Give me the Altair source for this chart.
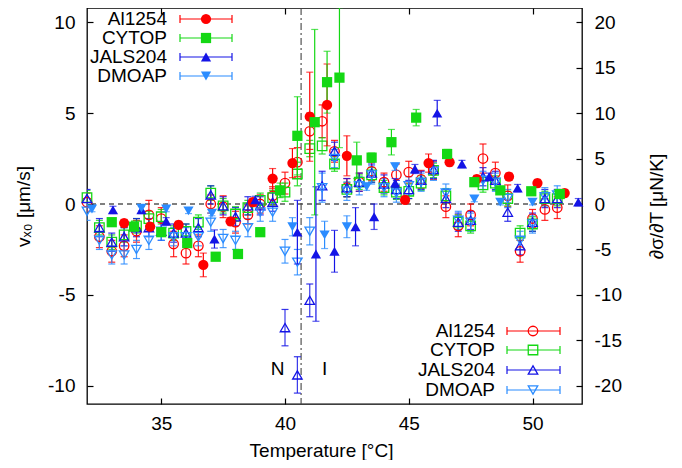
import altair as alt
import pandas as pd

FONT = "Liberation Sans"
FS = 19

SERIES = ["Al1254", "CYTOP", "JALS204", "DMOAP"]
COLORS = ["#ff0000", "#14d814", "#1414e6", "#2b8cff"]
SHAPES = ["circle", "square", "triangle-up", "triangle-down"]

# ---- open symbols: v_x0 [um/s] (left axis) ----
T_OPEN = [32.0, 32.5, 33.0, 33.5, 34.0, 34.5, 35.0, 35.5, 36.0, 36.5,
          37.0, 37.5, 38.0, 38.5, 39.0, 39.5, 40.0, 40.5, 41.0, 41.5,
          42.0, 42.5, 43.0, 43.5, 44.0, 44.5, 45.0, 45.5, 46.0, 46.5,
          47.0, 47.5, 48.0, 48.5, 49.0, 49.5, 50.0, 50.5, 51.0]
V_AL = [0.1, -1.8, -2.6, -2.3, -1.5, -0.6, -0.8, -2.2, -2.7, -2.3,
        0.0, -0.15, -1.0, -0.6, 0.0, 0.45, 1.15, 2.3, 4.0, 4.55,
        2.9, 0.9, 1.2, 1.8, 1.2, 1.6, 1.75, 1.35, 1.85, -0.15,
        -1.2, -0.6, 2.5, 1.7, 0.45, -2.6, -0.8, -0.3, -0.2]
E_AL = [0.5, 0.6, 0.6, 0.6, 0.6, 0.8, 0.6, 0.7, 0.6, 0.6,
        0.5, 0.6, 0.6, 0.5, 0.5, 0.5, 0.6, 0.8, 1.0, 0.9,
        0.6, 0.5, 0.5, 0.5, 0.5, 0.6, 0.6, 0.5, 0.5, 0.6,
        0.6, 0.6, 0.8, 0.6, 0.6, 0.6, 0.5, 0.6, 0.6]
V_CY = [0.35, -1.3, -2.1, -1.7, -1.2, -0.8, -0.7, -1.6, -1.5, -1.0,
        0.6, -0.1, -0.55, -0.2, 0.2, 0.35, 0.65, 1.65, 3.05, 3.2,
        2.2, 0.8, 1.2, 1.6, 0.9, 0.65, 0.7, 1.15, 1.85, 0.45,
        -1.0, -1.2, 1.05, 1.15, 0.3, -1.6, -1.1, 0.3, 0.3]
E_CY = [0.4, 0.4, 0.4, 0.4, 0.4, 0.4, 0.4, 0.4, 0.4, 0.4,
        0.4, 0.4, 0.4, 0.4, 0.4, 0.4, 0.5, 0.65, 0.45, 0.45,
        0.4, 0.4, 0.4, 0.4, 0.4, 0.4, 0.4, 0.4, 0.4, 0.4,
        0.4, 0.4, 0.4, 0.4, 0.4, 0.4, 0.4, 0.4, 0.4]
V_JA = [0.3, -1.3, -2.1, -1.8, -1.3, -1.3, -1.5, -1.6, -1.6, -1.3,
        0.5, -0.1, -0.7, -0.1, -0.1, 0.1, -6.8, -9.4, -5.3, 1.0,
        2.9, 0.9, 1.2, 1.7, 1.1, 0.8, 0.8, 1.3, 1.9, 0.3,
        -1.0, -0.9, 1.5, 1.3, -0.45, -2.3, -1.0, 0.3, 0.3]
E_JA = [0.5, 0.5, 0.5, 0.5, 0.5, 0.5, 0.5, 0.5, 0.5, 0.5,
        0.5, 0.5, 0.5, 0.5, 0.5, 0.5, 1.0, 1.0, 0.9, 0.8,
        0.5, 0.5, 0.5, 0.5, 0.5, 0.5, 0.5, 0.5, 0.5, 0.5,
        0.5, 0.5, 0.5, 0.5, 0.5, 0.5, 0.5, 0.5, 0.5]
V_DM = [-0.4, -2.0, -2.8, -2.8, -2.5, -2.0, -1.5, -1.8, -1.8, -1.8,
        -1.0, -1.9, -2.0, -1.3, -0.45, -0.45, -2.6, -3.2, -1.5, 0.9,
        2.5, 0.7, 1.0, 1.6, 0.9, 0.6, 1.0, 1.2, 1.8, 0.6,
        -0.9, -1.0, 1.3, 1.2, 0.3, -2.0, -1.1, 0.4, 0.5]
E_DM = [0.5, 0.5, 0.5, 0.5, 0.5, 0.5, 0.5, 0.5, 0.5, 0.5,
        0.5, 0.5, 0.5, 0.5, 0.5, 0.5, 0.65, 0.7, 0.75, 0.8,
        0.5, 0.5, 0.5, 0.5, 0.5, 0.5, 0.5, 0.5, 0.5, 0.5,
        0.5, 0.5, 0.5, 0.5, 0.5, 0.5, 0.5, 0.5, 0.5]

# ---- filled symbols: d sigma / dT [uN/K] (right axis) ----
TF_AL = [33.5, 34.55, 35.7, 36.7, 37.8, 38.7, 39.5, 40.3, 41.0, 41.7, 42.5,
         44.85, 45.8, 46.65, 47.75, 49.05, 50.2, 51.3]
D_AL = [-2.1, -2.5, -2.3, -6.7, -1.9, 0.2, 2.8, 4.5, 9.6, 10.9, 5.3,
        0.45, 4.5, 4.6, 2.75, 3.0, 2.3, 1.2]
DE_AL = [0.4, 0.4, 0.4, 1.3, 0.4, 0.4, 1.1, 1.6, 4.9, 4.5, 2.2,
         0.4, 1.0, 0.4, 0.4, 0.4, 0.4, 0.4]
TF_CY = [33.0, 33.9, 35.0, 36.05, 37.2, 38.1, 39.0, 39.8, 40.5, 41.2, 41.7,
         42.2, 42.9, 43.5, 44.3, 45.3, 46.55, 47.65, 48.7, 49.95, 51.1]
D_CY = [-2.0, -2.5, -3.1, -4.3, -5.8, -5.5, -3.1, 1.5, 7.5, 9.0, 13.4,
        13.9, 4.8, 5.1, 6.8, 9.5, 5.5, 2.4, 1.5, 1.4, 1.1]
DE_CY = [0.4, 0.4, 0.4, 0.4, 0.4, 0.4, 0.4, 0.8, 4.3, 10.2, 3.4,
         7.7, 2.0, 0.5, 1.4, 0.9, 0.5, 0.4, 0.4, 0.4, 0.4]
TF_JA = [33.05, 34.2, 35.2, 37.15, 38.8, 40.5, 41.25, 42.0, 42.85, 43.6,
         44.45, 45.25, 46.15, 47.15, 48.25, 49.4, 51.85]
D_JA = [-0.65, -0.65, -1.9, -3.85, 0.45, -3.1, -5.5, -5.2, -2.5, -1.4,
        2.3, 3.85, 10.0, 4.4, 3.0, 1.75, 0.2]
DE_JA = [0.4, 0.4, 0.4, 1.0, 0.4, 3.5, 7.4, 2.3, 2.1, 1.4,
         0.5, 0.5, 1.4, 0.4, 0.4, 0.4, 0.4]
TF_DM = [32.2, 34.2, 35.2, 36.1, 37.05, 40.3, 41.6, 42.5, 43.3, 44.45,
         47.65, 48.7, 50.0]
D_DM = [-0.55, -0.45, -0.55, -0.75, -1.0, -2.5, -3.4, -2.5, 1.9, 4.1,
        0.55, 0.2, 0.2]
DE_DM = [0.3, 0.3, 0.3, 0.3, 0.3, 1.0, 1.5, 1.2, 0.4, 0.4, 0.3, 0.3, 0.3]

T_NI = [40.65]
PHASE_LABELS = ["N", "I"]
PHASE_X = [39.7, 41.6]
PHASE_Y = [-9.1, -9.1]

X_TICKS = [35, 40, 45, 50]
YL_TICKS = [-10, -5, 0, 5, 10]
YR_TICKS = [-20, -15, -10, -5, 0, 5, 10, 15, 20]

# ---- tables ----
def table(ts, vs, es, name):
    return pd.DataFrame({"series": name, "T": ts, "v": vs,
                         "lo": [a - b for a, b in zip(vs, es)],
                         "hi": [a + b for a, b in zip(vs, es)]})

open_df = pd.concat([table(T_OPEN, V_AL, E_AL, SERIES[0]),
                     table(T_OPEN, V_CY, E_CY, SERIES[1]),
                     table(T_OPEN, V_JA, E_JA, SERIES[2]),
                     table(T_OPEN, V_DM, E_DM, SERIES[3])], ignore_index=True)
filled_df = pd.concat([table(TF_AL, D_AL, DE_AL, SERIES[0]),
                       table(TF_CY, D_CY, DE_CY, SERIES[1]),
                       table(TF_JA, D_JA, DE_JA, SERIES[2]),
                       table(TF_DM, D_DM, DE_DM, SERIES[3])], ignore_index=True)

# ---- scales & axes ----
xs = alt.Scale(domain=[32, 52], nice=False, zero=False)
ysl = alt.Scale(domain=[-11, 10.78], nice=False, zero=False)
ysr = alt.Scale(domain=[-22, 21.56], nice=False, zero=False)

ax_bottom = alt.Axis(orient="bottom", values=X_TICKS, offset=-6, tickSize=6, domain=False,
                     grid=False, labelPadding=10, labelExpr="'' + datum.value",
                     title="Temperature [°C]", titlePadding=8, titleX=234)
ax_top = alt.Axis(orient="top", values=X_TICKS, offset=-6, tickSize=6, domain=False,
                  grid=False, labels=False, title="")
ax_left = alt.Axis(orient="left", values=YL_TICKS, offset=-6, tickSize=6, domain=False,
                   grid=False, labelPadding=12, labelExpr="'' + datum.value",
                   title="vₓ₀ [μm/s]", titlePadding=14)
ax_right = alt.Axis(orient="right", values=YR_TICKS, offset=-6, tickSize=6, domain=False,
                    grid=False, labelPadding=12, labelExpr="'' + datum.value",
                    title="∂σ/∂T [μN/K]", titlePadding=26, titleAngle=270,
                    titleBaseline="top")

color = alt.Color("series:N", scale=alt.Scale(domain=SERIES, range=COLORS), legend=None)
shape = alt.Shape("series:N", scale=alt.Scale(domain=SERIES, range=SHAPES), legend=None)

XO = alt.X("T:Q", scale=xs, axis=ax_bottom)
XF = alt.X("T:Q", scale=xs, axis=ax_top)

# ---- open group (left axis) ----
open_err = alt.Chart(open_df).mark_errorbar(
    ticks=True, size=7, thickness=1.2, orient="vertical", opacity=0.85, clip=True
).encode(x=XO, y=alt.Y("lo:Q", scale=ysl, axis=ax_left), y2="hi:Q", color=color)
open_pts = alt.Chart(open_df).mark_point(
    filled=False, size=90, strokeWidth=1.3, opacity=1
).encode(x=XO, y=alt.Y("v:Q", scale=ysl, axis=ax_left), color=color, shape=shape)
zero_line = alt.Chart(pd.DataFrame({"v": [0.0]})).mark_rule(
    color="black", strokeDash=[5, 4], strokeWidth=1
).encode(y=alt.Y("v:Q", scale=ysl, axis=ax_left))
ni_line = alt.Chart(pd.DataFrame({"T": T_NI})).mark_rule(
    color="#444444", strokeDash=[7, 3, 2, 3], strokeWidth=1.1
).encode(x=XO)
phase_txt = alt.Chart(pd.DataFrame({"T": PHASE_X, "v": PHASE_Y, "lab": PHASE_LABELS})).mark_text(
    font=FONT, fontSize=FS, color="black"
).encode(x=XO, y=alt.Y("v:Q", scale=ysl, axis=ax_left), text="lab:N")

open_group = alt.layer(zero_line, ni_line, open_err, open_pts, phase_txt)

# ---- filled group (right axis) ----
filled_err = alt.Chart(filled_df).mark_errorbar(
    ticks=True, size=7, thickness=1.2, orient="vertical", clip=True
).encode(x=XF, y=alt.Y("lo:Q", scale=ysr, axis=ax_right), y2="hi:Q", color=color)
filled_pts = alt.Chart(filled_df).mark_point(
    filled=True, size=105, opacity=1
).encode(x=XF, y=alt.Y("v:Q", scale=ysr, axis=ax_right), color=color, shape=shape)

filled_group = alt.layer(filled_err, filled_pts)

# ---- keys ----
def key(rows_y, text_x, x1, x2, mx, filled):
    layers = []
    for name, c, s, ry in zip(SERIES, COLORS, SHAPES, rows_y):
        d = pd.DataFrame({"name": [name]})
        layers.append(alt.Chart(d).mark_text(align="right", baseline="middle", font=FONT,
                                             fontSize=FS, color="black")
                      .encode(x=alt.value(text_x), y=alt.value(ry), text="name:N"))
        layers.append(alt.Chart(d).mark_rule(color=c, strokeWidth=1.2)
                      .encode(x=alt.value(x1), x2=alt.value(x2), y=alt.value(ry)))
        for xx in (x1, x2):
            layers.append(alt.Chart(d).mark_rule(color=c, strokeWidth=1.2)
                          .encode(x=alt.value(xx), y=alt.value(ry - 4), y2=alt.value(ry + 4)))
        layers.append(alt.Chart(d).mark_point(shape=s, filled=filled, color=c,
                                              size=105 if filled else 90, strokeWidth=1.3, opacity=1)
                      .encode(x=alt.value(mx), y=alt.value(ry)))
    return layers

key1 = key([11, 30, 49, 68], 80, 93, 145, 119, True)
key2 = key([323, 342, 362, 382], 408, 420, 473, 446, False)

chart = alt.layer(open_group, filled_group, *key1, *key2).resolve_scale(
    x="independent", y="independent"
).properties(
    width=495, height=396,
    autosize=alt.AutoSizeParams(type="none"),
    padding={"left": 79, "top": 0, "right": 92, "bottom": 56},
).configure_axis(
    labelFont=FONT, labelFontSize=FS, labelColor="black",
    titleFont=FONT, titleFontSize=FS, titleFontWeight="normal", titleColor="black",
    tickColor="black", tickWidth=1.2,
).configure_view(stroke="black", strokeWidth=1.3)

chart.save("out.html", embed_options={"renderer": "svg", "actions": False})
